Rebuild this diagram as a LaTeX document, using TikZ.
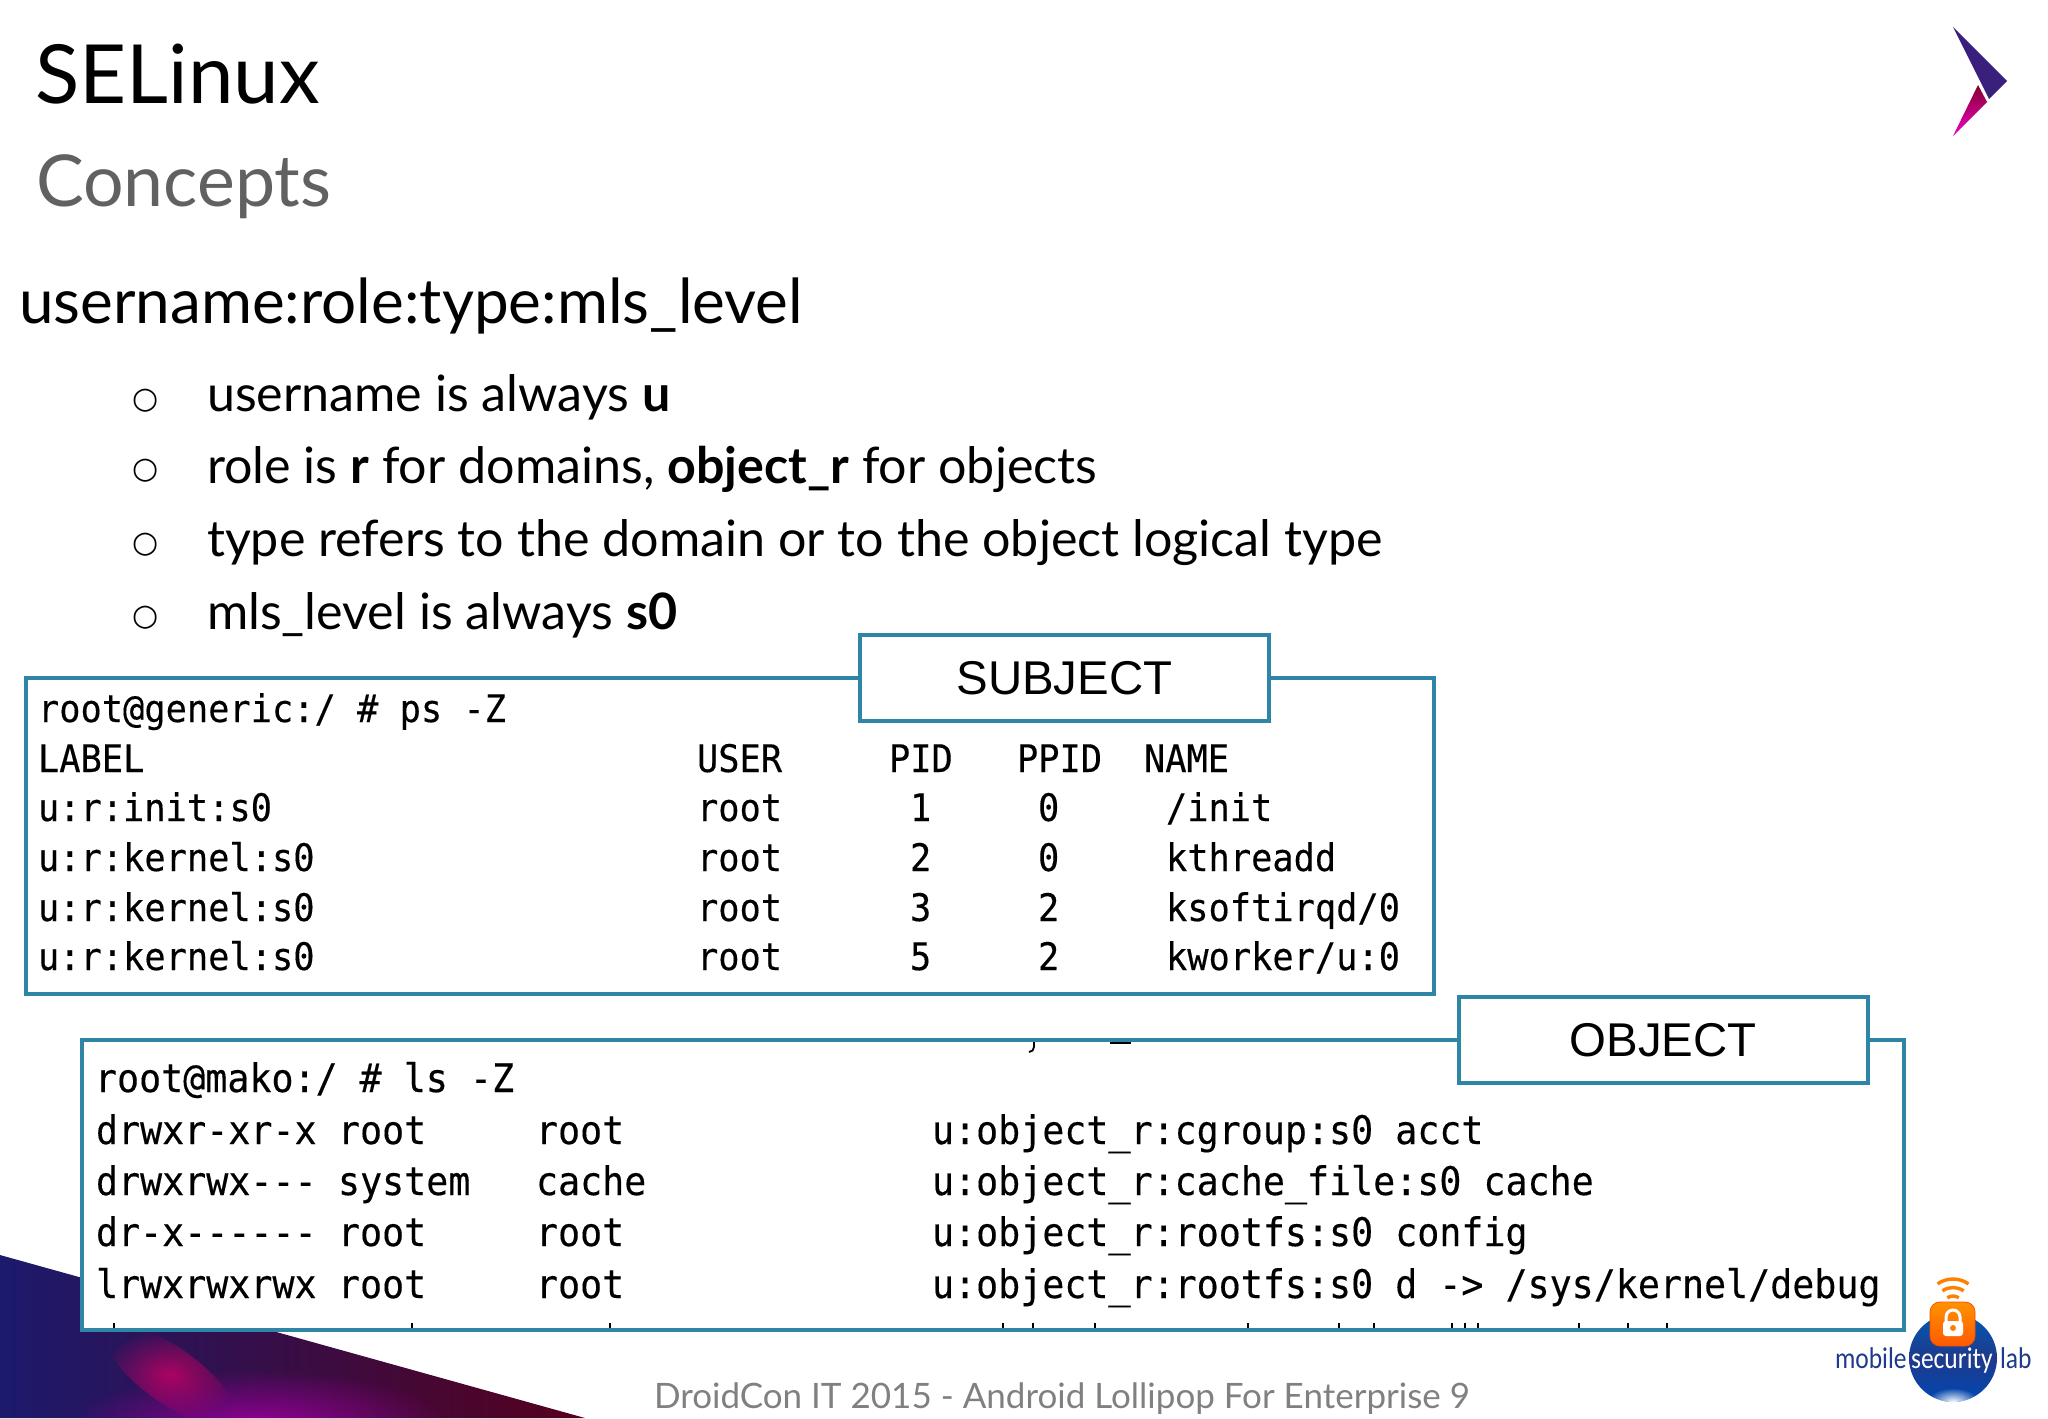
\documentclass[tikz,border=0pt]{standalone}
\usepackage{fontspec}
\setmainfont{Lato}
\setmonofont[FakeBold=0.3,FakeStretch=0.93]{DejaVu Sans Mono}
\newfontfamily\symfont{DejaVu Sans}
\newfontfamily\armfont{Liberation Sans}
\newfontfamily\logofont[FakeStretch=0.85]{Carlito}
\usetikzlibrary{fadings}
\tikzfading[name=glow, inner color=transparent!0, outer color=transparent!100]
\definecolor{framecol}{HTML}{2F85A6}
\definecolor{logonavy}{HTML}{1F3A8C}
\definecolor{swoopnavy}{HTML}{1C1A6C}
\definecolor{arrowpurple}{HTML}{3A1F7D}
\begin{document}
\begin{tikzpicture}[
    x=0.5pt, y=-0.5pt,
    every node/.style={inner sep=0pt, outer sep=0pt, anchor=base west},
    title/.style={font=\fontsize{40.8}{50}\selectfont},
    subtitle/.style={font=\fontsize{35.8}{42}\selectfont, text=black!62},
    head/.style={font=\fontsize{31}{38}\selectfont},
    item/.style={font=\fontsize{25.1}{30}\selectfont},
    bull/.style={font=\symfont\fontsize{15}{18}\selectfont, anchor=base},
    subj/.style={font=\ttfamily\fontsize{19}{20}\selectfont},
    obj/.style={font=\ttfamily\fontsize{19.7}{20}\selectfont},
    tag/.style={draw=framecol, line width=2pt, fill=white, anchor=center,
      minimum height=43pt, minimum width=204.5pt,
      font=\armfont\fontsize{23.7}{28}\selectfont},
    frame/.style={draw=framecol, line width=2pt, fill=white},
    scrap/.style={black, line width=0.9pt}
  ]
  \useasboundingbox (0,0) rectangle (2048,1418);
  % swoosh in the corner
  \begin{scope}
    \clip (0,1255) -- (585,1418) -- (0,1418) -- cycle;
    \shade[left color=swoopnavy, right color=black!55!purple] (0,1250) rectangle (590,1418);
    \fill[violet!85!magenta, path fading=glow] (260,1425) ellipse (190 and 55);
    \fill[purple!80!magenta, opacity=0.8, path fading=glow, rotate around={-35:(170,1375)}] (170,1375) ellipse (75 and 28);
  \end{scope}
  % arrow logo
  \fill[arrowpurple] (1953,27) -- (2007,81) -- (1989,99) -- cycle;
  \shade[top color=black!30!purple, bottom color=magenta!70!purple] (1978,85) -- (1987,102) -- (1953,136) -- cycle;
  % headings
  \node[title] (hsel) at (35,104) {SELinux};
  \node[subtitle] (hcon) at (36,206) {Concepts};
  \node[head] (hfmt) at (19,323) {username:role:type:mls\_level};
  \foreach \name/\ypos in {ba/408, bb/478, bc/552, bd/625}
    \node[bull] (\name) at (145.5,\ypos) {○};
  \node[item] (ia) at (207,411) {username is always \textbf{u}};
  \node[item] (ib) at (207,483) {role is \textbf{r} for domains, \textbf{object\_r} for objects};
  \node[item] (ic) at (207,556) {type refers to the domain or to the object logical type};
  \node[item] (id) at (207,629) {mls\_level is always \textbf{s0}};
  % ps -Z
  \draw[frame] (26,678) rectangle (1434,994);
  \node[subj] (sprompt) at (38,722) {root@generic:/ \# ps -Z};
  \node[subj] (slabel) at (38,772) {LABEL};
  \node[subj] (suser) at (697,772) {USER};
  \node[subj] (spid) at (889,772) {PID};
  \node[subj] (sppid) at (1017,772) {PPID};
  \node[subj] (sname) at (1144,772) {NAME};
  \foreach \row/\ypos/\lab/\pid/\ppid/\cmd in {a/821/init/1/0/{/init}, b/871/kernel/2/0/kthreadd,
      c/921/kernel/3/2/{ksoftirqd/0}, d/970/kernel/5/2/{kworker/u:0}} {
    \node[subj] (l\row) at (38,\ypos) {u:r:\lab:s0};
    \node[subj] (u\row) at (697,\ypos) {root};
    \node[subj] (p\row) at (910,\ypos) {\pid};
    \node[subj] (q\row) at (1038,\ypos) {\ppid};
    \node[subj] (n\row) at (1166,\ypos) {\cmd};
  }
  \node[tag] (subject) at (1064.5,678) {SUBJECT};
  % ls -Z
  \draw[frame] (82,1040) rectangle (1904,1330);
  % cut off rows at the frame edges
  \draw[scrap] (1034,1042) -- (1034,1047) arc (0:90:5);
  \draw[scrap, line width=1.4pt] (1110,1043) -- (1131,1043);
  \foreach \xpos in {114,412,610,1003,1033,1095,1248,1339,1374,1452,1465,1478,1579,1628,1667}
    \draw[scrap] (\xpos,1323) -- (\xpos,1328);
  \node[obj] (oprompt) at (95,1092) {root@mako:/ \# ls -Z};
  \node[obj] (pa) at (96,1144) {drwxr-xr-x};
  \node[obj] (pb) at (96,1195) {drwxrwx---};
  \node[obj] (pc) at (96,1246) {dr-x------};
  \node[obj] (pd) at (96,1298) {lrwxrwxrwx};
  \node[obj] (oa) at (338,1144) {root};
  \node[obj] (ob) at (338,1195) {system};
  \node[obj] (oc) at (338,1246) {root};
  \node[obj] (od) at (338,1298) {root};
  \node[obj] (ga) at (536,1144) {root};
  \node[obj] (gb) at (536,1195) {cache};
  \node[obj] (gc) at (536,1246) {root};
  \node[obj] (gd) at (536,1298) {root};
  \node[obj] (ca) at (932,1144) {u:object\_r:cgroup:s0 acct};
  \node[obj] (cb) at (932,1195) {u:object\_r:cache\_file:s0 cache};
  \node[obj] (cc) at (932,1246) {u:object\_r:rootfs:s0 config};
  \node[obj] (cd) at (932,1298) {u:object\_r:rootfs:s0 d -> /sys/kernel/debug};
  \node[tag] (object) at (1663,1040) {OBJECT};
  % footer
  \node[font=\fontsize{17.5}{22}\selectfont, text=black!50] (foot) at (654,1408)
    {DroidCon IT 2015 - Android Lollipop For Enterprise 9};
  % lab logo
  \begin{scope}
    \clip (1953,1358) circle (44);
    \shade[top color=blue!50!cyan!70!black, bottom color=blue!60!cyan!70!black, middle color=logonavy] (1909,1314) rectangle (1997,1402);
    \fill[white, path fading=glow] (1953,1402) ellipse (26 and 14);
  \end{scope}
  \foreach \r in {10,18.5,27}
    \draw[orange, line width=1.7pt] (1953,1306) ++(235:\r) arc (235:305:\r);
  \shade[rounded corners=5pt, top color=orange!85!yellow, bottom color=orange!70!red, draw=orange!60!red]
    (1930,1302) rectangle (1975,1346);
  \draw[white, line width=1.5pt] (1946,1322) -- (1946,1317) arc (180:360:7) -- (1960,1322);
  \fill[white, rounded corners=1.5pt] (1943,1321) rectangle (1963,1336);
  \fill[orange] (1953,1328) circle (3);
  \node[font=\logofont\fontsize{15}{16}\selectfont, text=logonavy] (lmob) at (1835,1368) {mobile};
  \node[font=\logofont\fontsize{15}{16}\selectfont, text=white] (lsec) at (1911,1368) {security};
  \node[font=\logofont\fontsize{15}{16}\selectfont, text=logonavy] (llab) at (2000,1368) {lab};
\end{tikzpicture}
\end{document}
